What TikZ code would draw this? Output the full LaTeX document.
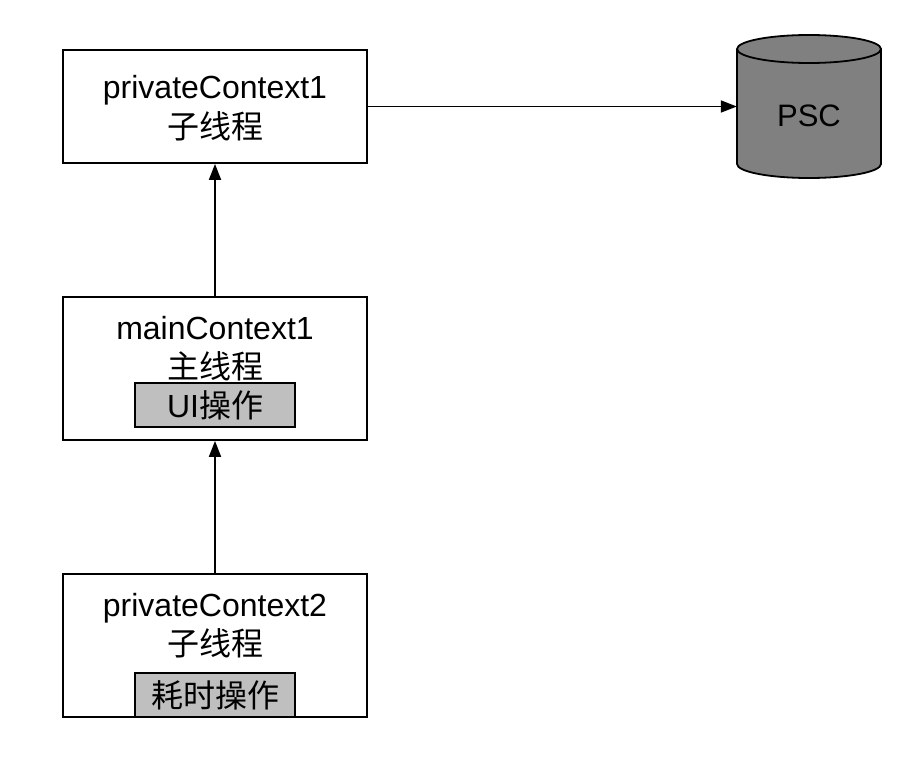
\documentclass[tikz,border=0pt]{standalone}
\usepackage{fontspec}
\setmainfont{Liberation Sans}
\newfontfamily\cjk{Noto Sans CJK SC}
\usetikzlibrary{arrows.meta}
\begin{document}
\begin{tikzpicture}[x=1pt,y=-1pt,
  box/.style={draw=black,line width=1.8pt,fill=white,inner sep=0pt},
  graybox/.style={draw=black,line width=1.8pt,fill=gray!50,inner sep=0pt,minimum width=160pt,minimum height=44pt,font=\fontsize{32}{38}\selectfont},
  lbl/.style={font=\fontsize{32}{38}\selectfont,inner sep=0pt,anchor=base},
  conn/.style={line width=1.8pt,-{Triangle[length=16pt,width=12pt]}}]
\useasboundingbox (0,0) rectangle (910,760);
% boxes
\node[box,minimum width=304pt,minimum height=113pt] (b1) at (215,106.5) {};
\node[box,minimum width=304pt,minimum height=143pt] (b2) at (215,368.5) {};
\node[box,minimum width=304pt,minimum height=143pt] (b3) at (215,645.5) {};
% texts box1
\node[lbl] (t1a) at (215,98) {privateContext1};
\node[lbl] (t1b) at (215,138) {\cjk 子线程};
% box2
\node[lbl] (t2a) at (215,339) {mainContext1};
\node[lbl] (t2b) at (215,378) {\cjk 主线程};
\node[graybox] (ui) at (215,405) {UI{\cjk 操作}};
% box3
\node[lbl] (t3a) at (215,616) {privateContext2};
\node[lbl] (t3b) at (215,655) {\cjk 子线程};
\node[graybox] (hs) at (215,695) {\cjk 耗时操作};
% cylinder
\node[inner sep=0pt,minimum width=144pt,minimum height=143pt] (psc) at (809,106.5) {};
\fill[black!50] (737,49) -- (737,164) arc[start angle=180,end angle=360,x radius=72,y radius=-14] -- (881,49) -- cycle;
\fill[black!50] (809,49) ellipse[x radius=72,y radius=14];
\draw[line width=1.8pt] (737,49) -- (737,164) arc[start angle=180,end angle=360,x radius=72,y radius=-14] -- (881,49);
\draw[line width=1.8pt] (809,49) ellipse[x radius=72,y radius=14];
\node[font=\fontsize{31}{36}\selectfont,inner sep=0pt] (pscl) at (809,116) {PSC};
% connectors
\draw[conn] (b1.east) -- (psc.west);
\draw[conn] (b2.north) -- (b1.south);
\draw[conn] (b3.north) -- (b2.south);
\end{tikzpicture}
\end{document}
